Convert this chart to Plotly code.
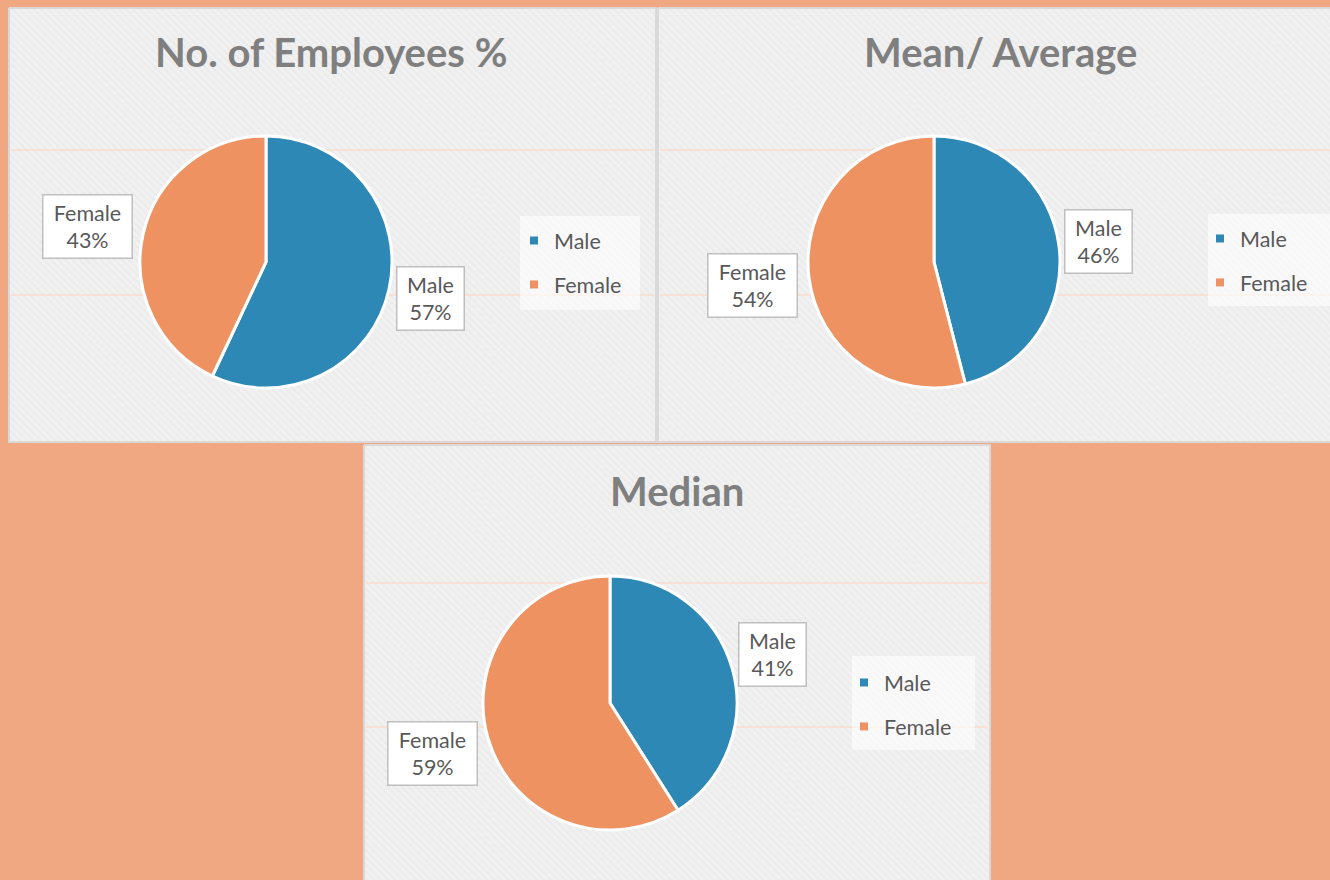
import plotly.graph_objects as go

W, H = 1330, 880
OFF = 0  # body margin removed via post_script

categories = ["Male", "Female"]
employees_pct = [57, 43]
mean_pct = [46, 54]
median_pct = [41, 59]
titles = ["No. of Employees %", "Mean/ Average", "Median"]

male_color = "#2E88B6"
female_color = "#EE9262"
text_color = "#595959"
title_color = "#7F7F7F"
FONT = "Lato"


def px_x(v):
    return (v - OFF) / W


def px_y(v):
    return 1 - (v - OFF) / H


fig = go.Figure()

# panel layout in window pixels: x0, y0, x1, y1
panels = [(9, 8, 656, 442), (658, 8, 1332, 442), (364, 445, 990, 882)]
pie_boxes = [(140, 136, 392, 388), (808, 136, 1060, 388), (483, 576, 737, 830)]
title_pos = [(331, 52), (1000, 52), (677, 491)]
hlines = [(150, 295), (150, 295), (583, 727)]
legend_pos = [(514, 220), (1200, 218), (844, 662)]
legend_box = [(520, 216, 640, 310), (1208, 214, 1332, 306), (852, 656, 975, 750)]
label_pos = [[(431, 298), (88, 226)], [(1098, 241), (753, 285)], [(773, 654), (432, 753)]]
datasets = [employees_pct, mean_pct, median_pct]

# decorative background: hatched panels drawn on a hidden pixel-space axis
for i, (x0, y0, x1, y1) in enumerate(panels):
    fig.add_trace(go.Scatter(
        x=[x0, x1, x1, x0, x0], y=[y0, y0, y1, y1, y0], mode="lines", fill="toself",
        fillcolor="#EDEDED",
        fillpattern=dict(shape="\\", bgcolor="#ECECEC", fgcolor="#F8F8F8", size=5, solidity=0.45),
        line=dict(color="#D9D9D9", width=2), hoverinfo="skip", showlegend=False,
    ))
    for hy in hlines[i]:
        fig.add_trace(go.Scatter(
            x=[x0 + 2, x1 - 2], y=[hy, hy], mode="lines",
            line=dict(color="#F8DCCB", width=1.5), hoverinfo="skip", showlegend=False,
        ))
    lx0, ly0, lx1, ly1 = legend_box[i]
    fig.add_trace(go.Scatter(
        x=[lx0, lx1, lx1, lx0, lx0], y=[ly0, ly0, ly1, ly1, ly0], mode="lines", fill="toself",
        fillcolor="rgba(255,255,255,0.6)", line=dict(width=0), hoverinfo="skip", showlegend=False,
    ))

annotations = []
legend_names = ["legend", "legend2", "legend3"]
for i, vals in enumerate(datasets):
    bx0, by0, bx1, by1 = pie_boxes[i]
    fig.add_trace(go.Pie(
        labels=categories, values=vals, sort=False, direction="clockwise", rotation=0,
        marker=dict(colors=[male_color, female_color], line=dict(color="white", width=3)),
        textinfo="none", hoverinfo="label+percent", showlegend=False,
        domain=dict(x=[px_x(bx0), px_x(bx1)], y=[px_y(by1), px_y(by0)]),
    ))
    for c, col in zip(categories, [male_color, female_color]):
        fig.add_trace(go.Scatter(
            x=[None], y=[None], mode="markers", name=c,
            marker=dict(symbol="square", size=8, color=col),
            legend=legend_names[i], legendgroup=f"{legend_names[i]}_{c}",
            showlegend=True,
        ))
    tx, ty = title_pos[i]
    annotations.append(dict(xref="paper", yref="paper", x=px_x(tx), y=px_y(ty),
                            text=f"<b>{titles[i]}</b>", showarrow=False,
                            font=dict(family=FONT, size=40, color=title_color),
                            xanchor="center", yanchor="middle"))
    for (lx, ly), c, v in zip(label_pos[i], categories, vals):
        annotations.append(dict(xref="paper", yref="paper", x=px_x(lx), y=px_y(ly),
                                text=f"{c}<br>{v}%", showarrow=False,
                                font=dict(family=FONT, size=21.5, color=text_color),
                                bgcolor="white", bordercolor="#BFBFBF", borderwidth=1.5,
                                borderpad=4, width=80 if c == "Female" else 58,
                                xanchor="center", yanchor="middle"))

layout_legends = {}
for i, name in enumerate(legend_names):
    lx, ly = legend_pos[i]
    layout_legends[name] = dict(
        x=px_x(lx), y=px_y(ly), xanchor="left", yanchor="top",
        xref="paper", yref="paper",
        bgcolor="rgba(0,0,0,0)", borderwidth=0,
        font=dict(family=FONT, size=21.5, color=text_color),
        tracegroupgap=13, itemclick=False, itemdoubleclick=False,
    )

fig.update_layout(
    width=W, height=H,
    margin=dict(l=0, r=0, t=0, b=0),
    paper_bgcolor="#F0A882", plot_bgcolor="rgba(0,0,0,0)",
    xaxis=dict(visible=False, range=[OFF, W + OFF], domain=[0, 1], fixedrange=True),
    yaxis=dict(visible=False, range=[H + OFF, OFF], domain=[0, 1], fixedrange=True),
    annotations=annotations,
    font=dict(family=FONT),
    **layout_legends,
)

fig.write_html(
    "out.html",
    config={"displayModeBar": False},
    post_script="document.body.style.margin='0';document.body.style.overflow='hidden';",
)
